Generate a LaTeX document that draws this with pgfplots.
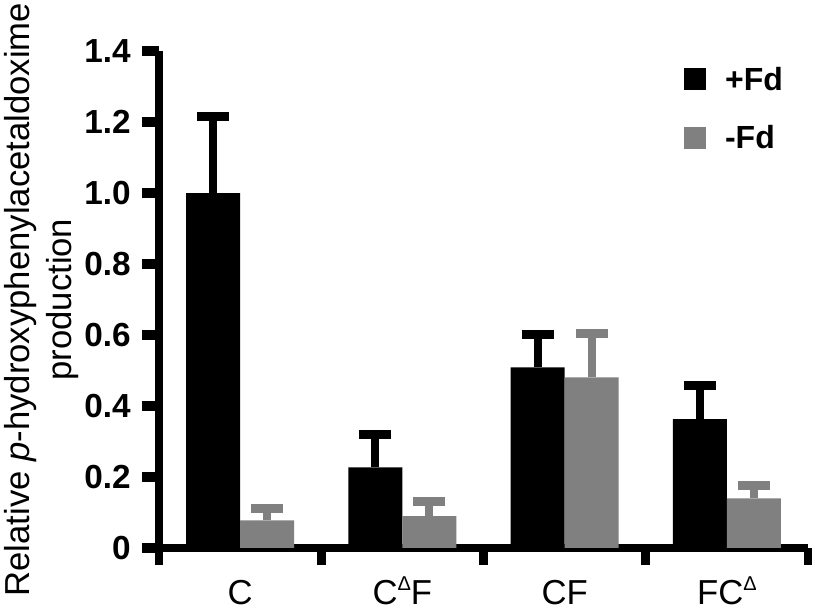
\documentclass[border=0pt]{standalone}
\usepackage{fontspec}
\setmainfont{Liberation Sans}
\usepackage{pgfplots}
\pgfplotsset{compat=1.18}
\definecolor{fdgray}{RGB}{128,128,128}
\pgfplotsset{sqlegend/.style={legend image code/.code={\fill[##1] (0pt,-8.25pt) rectangle (16.5pt,8.25pt);}}}

\begin{document}
\begin{tikzpicture}
\begin{axis}[
  at={(0pt,0pt)}, anchor=south west,
  scale only axis,
  width=486.75pt, height=372.5pt,
  xmin=-0.5, xmax=3.5, ymin=0, ymax=1.4,
  axis x line*=bottom, axis y line*=left,
  axis line style={line width=6.5pt},
  ybar, bar width=0.333,
  /pgf/number format/assume math mode=true,
  xtick={0,1,2,3},
  xticklabels={C, C\raisebox{10.5pt}{\fontsize{15}{15}\selectfont Δ}F, CF, FC\raisebox{10.5pt}{\fontsize{15}{15}\selectfont Δ}},
  minor xtick={-0.5,0.5,1.5,2.5,3.5},
  major x tick style={draw=none},
  ytick={0,0.2,0.4,0.6,0.8,1.0,1.2,1.4},
  yticklabels={0,0.2,0.4,0.6,0.8,1.0,1.2,1.4},
  tick align=outside,
  major tick length=12.75pt,
  minor tick length=12.75pt,
  every tick/.style={line width=7.5pt, black},
  y tick style={line width=7.5pt, black},
  major y tick style={line width=7.5pt, black},
  minor tick style={line width=6.5pt, black},
  yticklabel style={font=\bfseries\fontsize{25}{30}\selectfont, xshift=-5pt},
  xticklabel style={font=\fontsize{26}{31}\selectfont, inner sep=0pt,
    text height=21.5pt, text depth=0pt, yshift=-8.25pt},
  ylabel={Relative \textit{p}-hydroxyphenylacetaldoxime\\production},
  ylabel style={font=\fontsize{26}{31.5}\selectfont, align=center, inner sep=0pt,
    at={(axis description cs:-0.1233,0.5)}, anchor=south},
  legend style={at={(axis description cs:0.803,0.98)}, anchor=north west,
    draw=none, fill=none, font=\bfseries\fontsize{24}{28}\selectfont,
    row sep=21pt},
  legend cell align=left,
]
\addplot[fill=black, draw=none, bar shift=-0.1667, sqlegend,
  error bars/.cd, y dir=plus, y explicit,
  error bar style={draw=black, line width=6pt},
  error mark options={draw=black, rotate=90, mark size=12pt, line width=6.75pt}]
  coordinates {(0,1.0) +- (0,0.215) (1,0.227) +- (0,0.092) (2,0.509) +- (0,0.093) (3,0.363) +- (0,0.096)};
\addlegendentry{\hspace*{12pt}+Fd}
\addplot[fill=fdgray, draw=none, bar shift=0.1667, sqlegend,
  error bars/.cd, y dir=plus, y explicit,
  error bar style={draw=fdgray, line width=6pt},
  error mark options={draw=fdgray, rotate=90, mark size=12pt, line width=6.75pt}]
  coordinates {(0,0.078) +- (0,0.032) (1,0.090) +- (0,0.042) (2,0.481) +- (0,0.125) (3,0.140) +- (0,0.037)};
\addlegendentry{\hspace*{12pt}-Fd}
\end{axis}
\pgfresetboundingbox
\path (-119.25pt,-46.5pt) rectangle (492pt,411pt);
\end{tikzpicture}
\end{document}
